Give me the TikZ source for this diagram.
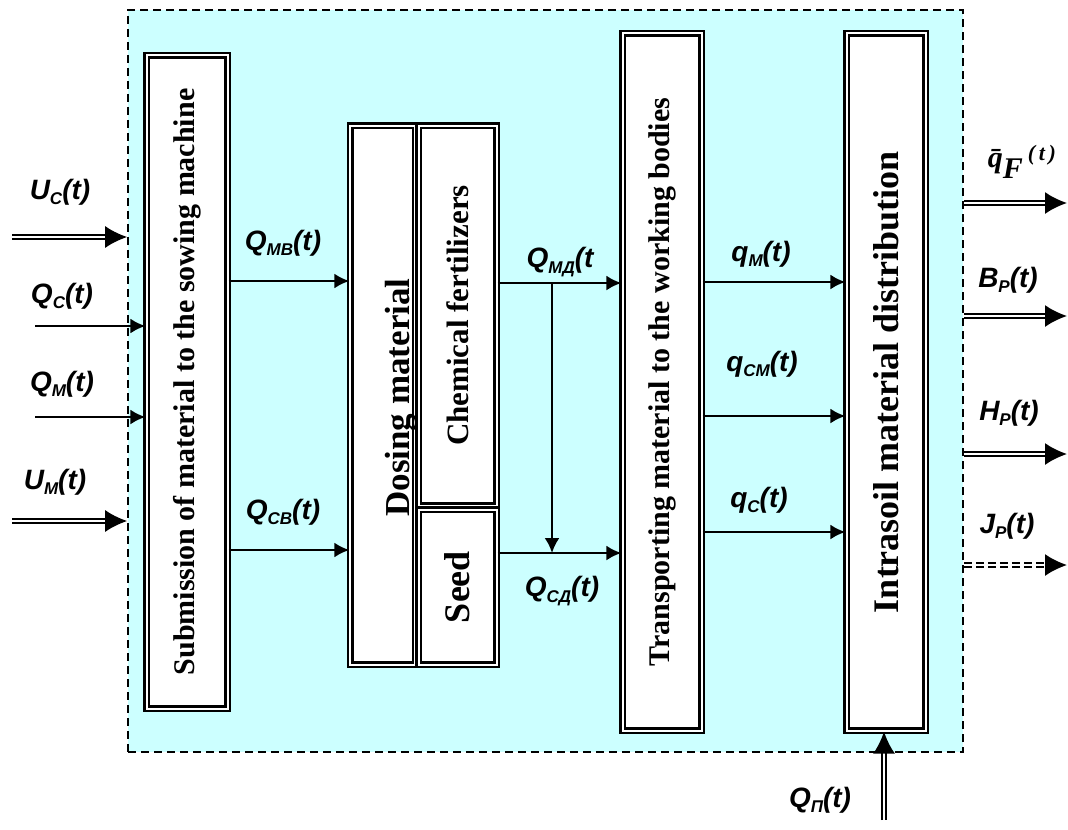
\documentclass[tikz,border=0pt]{standalone}
\usepackage{fontspec}
\setmainfont{Liberation Serif}
\newfontfamily\arialfont{Liberation Sans}
\usetikzlibrary{arrows.meta}
\definecolor{sysbg}{RGB}{204,255,255}
\newcommand{\sgnl}[2]{#1\raisebox{-0.35ex}{\fontsize{8.5}{9}\selectfont #2}(t)}

\begin{document}
\begin{tikzpicture}[x=0.5pt, y=-0.5pt,
    sysbox/.style={draw, dash pattern=on 4pt off 2.5pt, line width=0.8pt, fill=sysbg, minimum width=417.5pt, minimum height=371pt},
    block/.style={rectangle, draw, double, double distance=1pt, line width=1.1pt, fill=white, inner sep=0pt, font=\bfseries\fontsize{15}{17}\selectfont},
    sarrow/.style={-{Latex[length=7.5pt, width=7.5pt]}, line width=1.2pt},
    darrow/.style={-{Latex[length=11pt, width=11pt]}, double, double distance=1pt, line width=1pt},
    lbl/.style={font=\arialfont\bfseries\itshape\fontsize{14}{16}\selectfont},
    mathlbl/.style={font=\bfseries\itshape\fontsize{15}{17}\selectfont},
]
\useasboundingbox (0,0) rectangle (1068,829);
\node[sysbox] (sys) at (545.5,381) {};

\node[block, minimum width=40.5pt, minimum height=326.5pt] (submit) at (187,382) {\rotatebox{90}{Submission of material to the sowing machine}};
\node[block, minimum width=32.3pt, minimum height=269.5pt] (dosing) at (382.75,395) {};
\node[rotate=90, anchor=base, font=\bfseries\fontsize{17.5}{20}\selectfont] (dosinglbl) at (409,397.5) {Dosing material};
\node[block, font=\bfseries\fontsize{15.5}{17}\selectfont, minimum width=39pt, minimum height=190pt] (chem) at (457.5,315.5) {\rotatebox{90}{Chemical fertilizers}};
\node[block, font=\bfseries\fontsize{18}{20}\selectfont, minimum width=39pt, minimum height=77.5pt] (seed) at (457.5,587) {\rotatebox{90}{Seed}};
\node[block, minimum width=39.5pt, minimum height=348.5pt] (transport) at (662,382) {\rotatebox{90}{Transporting material to the working bodies}};
\node[block, font=\bfseries\fontsize{18}{20}\selectfont, minimum width=39.5pt, minimum height=348.5pt] (distrib) at (886,382) {\rotatebox{90}{Intrasoil material distribution}};

\coordinate (uc) at (12,237);
\coordinate (qc) at (35,326);
\coordinate (qm) at (35,417);
\coordinate (um) at (12,521);
\draw[darrow] (uc) -- (uc -| sys.west);
\draw[sarrow] (qc) -- (qc -| submit.west);
\draw[sarrow] (qm) -- (qm -| submit.west);
\draw[darrow] (um) -- (um -| sys.west);

\draw[sarrow] (submit.east |- 0,281) -- (dosing.west |- 0,281);
\draw[sarrow] (submit.east |- 0,550) -- (dosing.west |- 0,550);

\coordinate (split) at (552,283);
\draw[sarrow] (chem.east |- split) -- (transport.west |- split);
\draw[sarrow] (seed.east |- 0,553) -- (transport.west |- 0,553);
\draw[sarrow] (split) -- (split |- 0,553);

\draw[sarrow] (transport.east |- 0,282) -- (distrib.west |- 0,282);
\draw[sarrow] (transport.east |- 0,416) -- (distrib.west |- 0,416);
\draw[sarrow] (transport.east |- 0,532) -- (distrib.west |- 0,532);

\coordinate (qf) at (1067,203);
\coordinate (bp) at (1067,316);
\coordinate (hp) at (1067,454);
\coordinate (jp) at (1067,565);
\draw[darrow] (sys.east |- qf) -- (qf);
\draw[darrow] (sys.east |- bp) -- (bp);
\draw[darrow] (sys.east |- hp) -- (hp);
\draw[darrow, dash pattern=on 4pt off 2pt] (sys.east |- jp) -- (jp);

\coordinate (qp) at (884,820);
\draw[darrow] (qp) -- (qp |- distrib.south);

\node[lbl] (luc) at (60,192) {\sgnl{U}{С}};
\node[lbl] (lqc) at (62,296) {\sgnl{Q}{С}};
\node[lbl] (lqm) at (62,384) {\sgnl{Q}{М}};
\node[lbl] (lum) at (55,482) {\sgnl{U}{М}};
\node[lbl] (lqmb) at (283,243) {\sgnl{Q}{МВ}};
\node[lbl] (lqcb) at (283,512) {\sgnl{Q}{СВ}};
\node[lbl] (lqmd) at (560,262) {Q\raisebox{-0.35ex}{\fontsize{8.5}{9}\selectfont МД}(t};
\node[lbl] (lqcd) at (562,591) {\sgnl{Q}{СД}};
\node[lbl] (lqm2) at (761,254) {\sgnl{q}{М}};
\node[lbl] (lqcm) at (762,364) {\sgnl{q}{СМ}};
\node[lbl] (lqc2) at (759,500) {\sgnl{q}{С}};
\node[mathlbl] (lqf) at (1022,162) {\=q\raisebox{-0.8ex}{F}\,\raisebox{0.5ex}{\fontsize{11}{12}\selectfont(\,t\,)}};
\node[lbl] (lbp) at (1008,280) {\sgnl{B}{Р}};
\node[lbl] (lhp) at (1009,413) {\sgnl{H}{Р}};
\node[lbl] (ljp) at (1007,526) {\sgnl{J}{Р}};
\node[lbl] (lqp) at (820,800) {\sgnl{Q}{П}};
\end{tikzpicture}
\end{document}
